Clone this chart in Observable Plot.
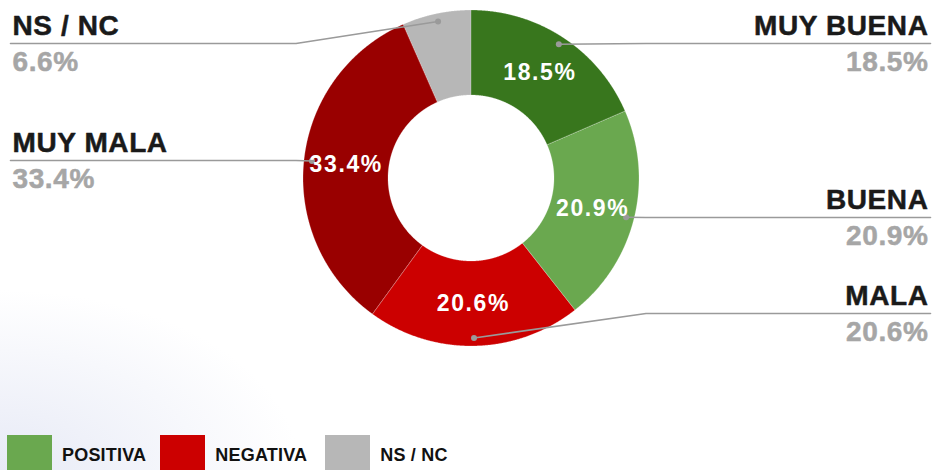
<!DOCTYPE html>
<html><head><meta charset="utf-8">
<script src="https://cdn.jsdelivr.net/npm/d3@7"></script>
<script src="https://cdn.jsdelivr.net/npm/@observablehq/plot@0.6"></script>
<style>
html,body{margin:0;padding:0;width:932px;height:470px;overflow:hidden;font-family:"Liberation Sans",Arial,sans-serif;}
body{background:radial-gradient(ellipse 300px 180px at 0% 100%, #e7eaf6 0%, rgba(255,255,255,0) 100%), #fff;}
#chart svg{display:block;background:transparent;}
#chart svg g[fill="#ffffff"] text{letter-spacing:1.6px;}
#chart svg g[fill="#1a1a1a"] text, #chart svg g[fill="#a6a6a6"] text{letter-spacing:0.6px;}
.legend{display:flex;align-items:flex-start;padding:5px 0 0 7px;}
.item{display:flex;align-items:flex-start;}
.sw{width:45px;height:40px;}
.lt{font-weight:bold;font-size:18px;line-height:18px;color:#111;margin:11px 0 0 10px;letter-spacing:0.2px;}
</style>
</head><body>
<div id="chart"></div>
<div class="legend" id="legend"></div>
<script>
// ---- data ----
const categories = ["MUY BUENA", "BUENA", "MALA", "MUY MALA", "NS / NC"];
const values = [18.5, 20.9, 20.6, 33.4, 6.6];
const legendLabels = ["POSITIVA", "NEGATIVA", "NS / NC"];

// ---- styles / layout ----
const sliceColors = ["#38761d", "#6aa84f", "#cc0000", "#990000", "#b7b7b7"];
const legendColors = ["#6aa84f", "#cc0000", "#b7b7b7"];
const legendGaps = [14, 18, 0];
const labelSide = ["right", "right", "right", "left", "left"];
const labelLineY = [43, 217, 313, 160, 43];

const W = 932, H = 430;
const cx = 470.5, cy = 177.5, R0 = 83, R1 = 168, RL = 125.5, RD = 160;

const total = d3.sum(values);
let acc = 0;
const slices = categories.map((c, i) => {
  const a0 = acc / total * 2 * Math.PI;
  acc += values[i];
  const a1 = acc / total * 2 * Math.PI;
  return {c, v: values[i], a0, a1, am: (a0 + a1) / 2, i};
});
const pt = (a, r) => ({x: cx + r * Math.sin(a), y: cy - r * Math.cos(a)});

const marks = [];
for (const s of slices) {
  const n = Math.max(2, Math.ceil((s.a1 - s.a0) / 0.004));
  const poly = [];
  for (let k = 0; k <= n; k++) poly.push(pt(s.a0 + (s.a1 - s.a0) * k / n, R1));
  for (let k = n; k >= 0; k--) poly.push(pt(s.a0 + (s.a1 - s.a0) * k / n, R0));
  marks.push(Plot.line(poly, {x: "x", y: "y", fill: sliceColors[s.i], stroke: "#ffffff", strokeOpacity: 0.4, strokeWidth: 0.6, curve: "linear-closed"}));
}

// leader lines
const leaders = [];
const dots = [];
const names = [];
slices.forEach(s => {
  const d = pt(s.am, RD);
  const right = labelSide[s.i] === "right";
  const ly = labelLineY[s.i];
  dots.push({...d, c: s.c});
  leaders.push({x: d.x, y: d.y, c: s.c});
  leaders.push({x: right ? cx + 175 : cx - 175, y: ly, c: s.c});
  leaders.push({x: right ? 930 : 10, y: ly, c: s.c});
  names.push({c: s.c, pct: s.v.toFixed(1) + "%", x: right ? 928 : 12, y: ly, anchor: right ? "end" : "start"});
});
marks.push(Plot.line(leaders, {x: "x", y: "y", z: "c", stroke: "#9a9a9a", strokeWidth: 1.6}));
marks.push(Plot.dot(dots, {x: "x", y: "y", r: 3, fill: "#9a9a9a", stroke: "none"}));

// inner labels (small slices unlabeled, as in the source)
const inner = slices.filter(s => s.v >= 10).map(s => ({...pt(s.am, RL), t: s.v.toFixed(1) + "%"}));
marks.push(Plot.text(inner, {x: "x", y: "y", text: "t", fill: "#ffffff", fontSize: 23, fontWeight: "bold", textAnchor: "middle", lineAnchor: "middle"}));

// outer labels
for (const side of ["start", "end"]) {
  const sub = names.filter(n => n.anchor === side);
  marks.push(Plot.text(sub, {x: "x", y: d => d.y - 8.5, text: "c", fill: "#1a1a1a", stroke: "#1a1a1a", strokeWidth: 0.5, fontSize: 28, fontWeight: "bold", textAnchor: side, lineAnchor: "bottom"}));
  marks.push(Plot.text(sub, {x: "x", y: d => d.y + 27.5, text: "pct", fill: "#a6a6a6", stroke: "#a6a6a6", strokeWidth: 0.5, fontSize: 28, fontWeight: "bold", textAnchor: side, lineAnchor: "bottom"}));
}

const chart = Plot.plot({
  width: W, height: H, margin: 0,
  x: {domain: [0, W], range: [0, W]},
  y: {domain: [0, H], range: [0, H]},
  axis: null,
  style: {background: "transparent", fontFamily: "'Liberation Sans', Arial, sans-serif"},
  marks
});
document.getElementById("chart").appendChild(chart);

const leg = document.getElementById("legend");
legendLabels.forEach((l, i) => {
  const it = document.createElement("div"); it.className = "item";
  it.style.marginRight = legendGaps[i] + "px";
  const sw = document.createElement("div"); sw.className = "sw"; sw.style.background = legendColors[i];
  const tx = document.createElement("div"); tx.className = "lt"; tx.textContent = l;
  it.appendChild(sw); it.appendChild(tx); leg.appendChild(it);
});
</script>
</body></html>
